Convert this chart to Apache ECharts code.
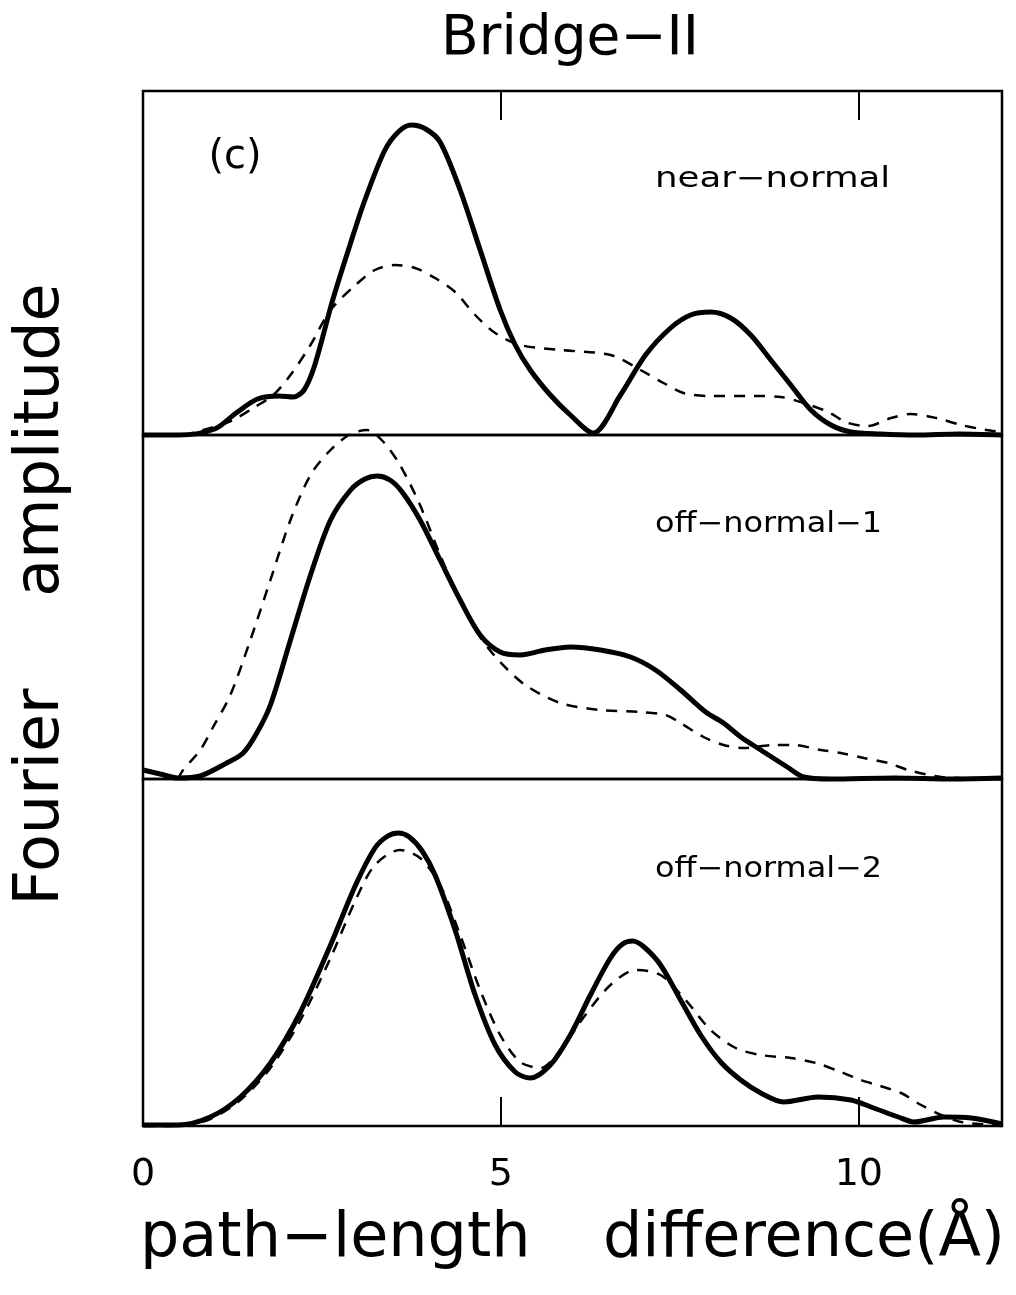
<!DOCTYPE html>
<html>
<head>
<meta charset="utf-8">
<script src="https://cdn.jsdelivr.net/npm/echarts@6/dist/echarts.min.js"></script>
<style>
html,body{margin:0;padding:0;background:#fff;}
#chart{width:1016px;height:1295px;}
</style>
</head>
<body>
<div id="chart"></div>
<script>
// x: path-length difference (Å); y: Fourier amplitude (arbitrary units)
var xTicks = [0, 5, 10];
var panelNames = ["near\u2212normal", "off\u2212normal\u22121", "off\u2212normal\u22122"];

var nearSolid = [[0,0],[0.5,0],[1.0,6],[1.3,22],[1.6,36],[1.9,39],[2.1,38],[2.25,45],[2.4,70],[2.65,135],[2.9,192],[3.1,235],[3.38,285],[3.58,304],[3.75,310],[3.95,306],[4.15,293],[4.43,245],[4.71,185],[4.99,125],[5.2,90],[5.41,65],[5.69,40],[5.97,20],[6.29,2],[6.67,40],[7.02,80],[7.37,107],[7.65,120],[7.93,123],[8.21,117],[8.49,100],[8.77,75],[9.05,50],[9.33,25],[9.61,10],[9.89,3],[10.3,1],[10.8,0],[11.4,1],[12,0]];
var nearDashed = [[0,0],[0.5,0],[0.94,7],[1.26,15],[1.54,27],[1.82,40],[2.06,60],[2.34,90],[2.62,125],[2.97,150],[3.24,165],[3.52,170],[3.8,167],[4.08,157],[4.36,143],[4.64,120],[4.92,102],[5.27,90],[5.83,85],[6.53,80],[6.95,65],[7.27,52],[7.55,42],[7.93,39],[8.53,39],[8.91,38],[9.23,32],[9.57,23],[9.85,12],[10.13,9],[10.45,17],[10.73,21],[11.08,17],[11.43,10],[11.78,5],[12,3]];

var off1Solid = [[0,9],[0.24,5],[0.49,1],[0.8,3],[1.17,16],[1.4,26],[1.59,46],[1.78,74],[2.06,139],[2.34,204],[2.62,259],[2.9,289],[3.1,300],[3.27,303],[3.45,299],[3.62,287],[3.87,259],[4.15,219],[4.43,179],[4.71,144],[4.99,127],[5.27,124],[5.62,129],[5.97,132],[6.39,129],[6.81,122],[7.16,109],[7.51,89],[7.86,67],[8.11,56],[8.35,42],[8.63,29],[9.0,12],[9.23,2],[9.6,0],[10.5,1],[11.3,0],[12,1]];
var off1Dashed = [[0.49,0],[0.56,9],[0.8,29],[0.98,52],[1.22,84],[1.5,139],[1.78,199],[2.06,259],[2.34,304],[2.62,329],[2.9,345],[3.13,349],[3.36,337],[3.59,314],[3.87,274],[4.15,224],[4.43,179],[4.71,142],[4.99,117],[5.34,94],[5.83,76],[6.39,69],[6.95,67],[7.3,64],[7.51,56],[7.83,42],[8.11,34],[8.39,31],[8.81,34],[9.09,34],[9.47,29],[9.75,26],[10.07,21],[10.41,16],[10.69,9],[11.15,2],[12,0]];

var off2Solid = [[0,1],[0.49,1],[0.94,9],[1.36,29],[1.78,63],[2.2,114],[2.62,181],[2.97,241],[3.24,278],[3.42,290],[3.57,293],[3.72,289],[3.9,275],[4.08,251],[4.36,196],[4.64,131],[4.92,81],[5.2,54],[5.41,48],[5.69,61],[5.97,91],[6.25,131],[6.53,168],[6.7,182],[6.84,185],[7.0,179],[7.23,161],[7.51,126],[7.79,91],[8.07,64],[8.35,46],[8.63,33],[8.95,24],[9.43,29],[9.89,26],[10.17,19],[10.55,9],[10.77,4],[11.19,9],[11.57,8],[12,2]];
var off2Dashed = [[0,0],[0.49,0],[0.94,7],[1.36,26],[1.78,58],[2.2,106],[2.62,168],[2.97,226],[3.24,261],[3.59,276],[3.87,268],[4.15,241],[4.43,191],[4.71,136],[4.99,91],[5.27,64],[5.55,58],[5.83,76],[6.18,111],[6.53,141],[6.88,156],[7.23,151],[7.58,126],[7.93,96],[8.28,78],[8.63,71],[9.05,68],[9.4,63],[9.75,54],[10.03,46],[10.3,40],[10.59,33],[10.87,21],[11.15,11],[11.43,4],[11.85,1],[12,0]];

var FONT = '"DejaVu Sans", sans-serif';
var chart = echarts.init(document.getElementById('chart'), null, {renderer: 'canvas'});

function xAx(gi, pos, showTicks, showLabels) {
  return {
    type: 'value', gridIndex: gi, min: 0, max: 12, interval: 5, position: pos,
    axisLine: {show: false, onZero: false},
    axisTick: {show: showTicks, inside: true, length: 29, lineStyle: {color: '#000', width: 2}},
    axisLabel: {show: showLabels, color: '#000', fontSize: 38, fontFamily: FONT, margin: 30,
      formatter: function (v) { return xTicks.indexOf(v) >= 0 ? String(v) : ''; }},
    splitLine: {show: false}
  };
}
function yAx(gi, mx) {
  return {type: 'value', gridIndex: gi, min: 0, max: mx, show: false, splitLine: {show: false}};
}
function line(data, gi, dashed) {
  return {
    type: 'line', xAxisIndex: gi, yAxisIndex: gi, data: data,
    showSymbol: false, symbol: 'none', smooth: 0.3, clip: false,
    z: dashed ? 2 : 3,
    lineStyle: dashed ? {color: '#000', width: 2.5, type: [11, 9]} : {color: '#000', width: 5},
    silent: true, animation: false
  };
}
var gridBase = {left: 143, right: 14, show: true, borderColor: '#000', borderWidth: 2.5, backgroundColor: 'transparent'};

function txt(str, x, y, size, opts) {
  opts = opts || {};
  return {
    type: 'text', x: x, y: y, rotation: opts.rot || 0, scaleX: opts.sx || 1, z: 10,
    style: {text: str, font: (opts.weight || 'normal') + ' ' + size + 'px ' + FONT, fill: '#000',
      textAlign: opts.align || 'center', textVerticalAlign: 'middle'}
  };
}

chart.setOption({
  animation: false,
  backgroundColor: '#fff',
  grid: [
    Object.assign({top: 91, height: 344}, gridBase),
    Object.assign({top: 435, height: 344}, gridBase),
    Object.assign({top: 779, height: 347}, gridBase)
  ],
  xAxis: [xAx(0, 'top', true, false), xAx(1, 'bottom', false, false), xAx(2, 'bottom', true, true)],
  yAxis: [yAx(0, 344), yAx(1, 344), yAx(2, 347)],
  series: [
    line(nearDashed, 0, true), line(nearSolid, 0, false),
    line(off1Dashed, 1, true), line(off1Solid, 1, false),
    line(off2Dashed, 2, true), line(off2Solid, 2, false)
  ],
  graphic: [
    txt('Bridge\u2212II', 570, 40, 55),
    txt('(c)', 235, 158, 40),
    txt(panelNames[0], 655, 180, 28, {align: 'left', sx: 1.27}),
    txt(panelNames[1], 655, 525, 28, {align: 'left', sx: 1.14}),
    txt(panelNames[2], 655, 870, 28, {align: 'left', sx: 1.14}),
    txt('amplitude', 42, 440, 62, {rot: Math.PI / 2}),
    txt('Fourier', 42, 797, 62, {rot: Math.PI / 2}),
    txt('path\u2212length', 140, 1240, 62, {align: 'left'}),
    txt('difference(\u00C5)', 1005, 1240, 62, {align: 'right'})
  ]
});
</script>
</body>
</html>
